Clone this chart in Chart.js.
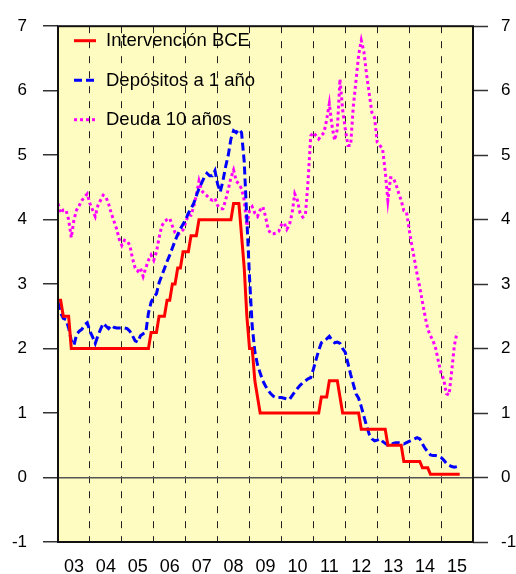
<!DOCTYPE html>
<html>
<head>
<meta charset="utf-8">
<script src="https://cdn.jsdelivr.net/npm/chart.js@4.4.1/dist/chart.umd.min.js"></script>
<style>
  html, body { margin: 0; padding: 0; background: #ffffff; }
  canvas { display: block; }
</style>
</head>
<body>
<canvas id="chart" width="516" height="574"></canvas>
<script>
// Etiquetas de los años (eje X)
const years = ["03", "04", "05", "06", "07", "08", "09", "10", "11", "12", "13", "14", "15"];

// Tipo de intervención del BCE, mensual desde enero 2003
const bce = [
  2.75, 2.75, 2.5, 2.5, 2.5, 2.0, 2.0, 2.0, 2.0, 2.0, 2.0, 2.0,
  2.0, 2.0, 2.0, 2.0, 2.0, 2.0, 2.0, 2.0, 2.0, 2.0, 2.0, 2.0,
  2.0, 2.0, 2.0, 2.0, 2.0, 2.0, 2.0, 2.0, 2.0, 2.0, 2.0, 2.25,
  2.25, 2.25, 2.5, 2.5, 2.5, 2.75, 2.75, 3.0, 3.0, 3.25, 3.25, 3.5,
  3.5, 3.5, 3.75, 3.75, 3.75, 4.0, 4.0, 4.0, 4.0, 4.0, 4.0, 4.0,
  4.0, 4.0, 4.0, 4.0, 4.0, 4.0, 4.25, 4.25, 4.25, 3.75, 3.25, 2.5,
  2.0, 2.0, 1.5, 1.25, 1.0, 1.0, 1.0, 1.0, 1.0, 1.0, 1.0, 1.0,
  1.0, 1.0, 1.0, 1.0, 1.0, 1.0, 1.0, 1.0, 1.0, 1.0, 1.0, 1.0,
  1.0, 1.0, 1.0, 1.25, 1.25, 1.25, 1.5, 1.5, 1.5, 1.5, 1.25, 1.0,
  1.0, 1.0, 1.0, 1.0, 1.0, 1.0, 0.75, 0.75, 0.75, 0.75, 0.75, 0.75,
  0.75, 0.75, 0.75, 0.75, 0.5, 0.5, 0.5, 0.5, 0.5, 0.5, 0.25, 0.25,
  0.25, 0.25, 0.25, 0.25, 0.25, 0.15, 0.15, 0.15, 0.05, 0.05, 0.05, 0.05,
  0.05, 0.05, 0.05, 0.05, 0.05, 0.05, 0.05, 0.05
];

// Depósitos a 1 año
const depositos = [
  2.72, 2.55, 2.47, 2.45, 2.32, 2.12, 2.05, 2.22, 2.27, 2.3, 2.37, 2.4,
  2.27, 2.18, 2.08, 2.2, 2.3, 2.39, 2.35, 2.31, 2.36, 2.33, 2.32, 2.32,
  2.32, 2.32, 2.31, 2.27, 2.2, 2.12, 2.1, 2.2, 2.23, 2.25, 2.55, 2.72,
  2.8, 2.85, 3.02, 3.13, 3.24, 3.35, 3.45, 3.56, 3.67, 3.77, 3.86, 3.93,
  4.0, 4.1, 4.17, 4.25, 4.37, 4.48, 4.57, 4.66, 4.72, 4.68, 4.68, 4.76,
  4.55, 4.43, 4.6, 4.82, 5.0, 5.25, 5.38, 5.35, 5.4, 5.35, 4.9, 4.0,
  3.1, 2.35, 1.95, 1.75, 1.62, 1.5, 1.42, 1.35, 1.3, 1.26, 1.24, 1.24,
  1.24, 1.23, 1.22, 1.21, 1.27, 1.33, 1.38, 1.43, 1.47, 1.5, 1.53, 1.55,
  1.68, 1.83, 1.97, 2.09, 2.12, 2.15, 2.19, 2.13, 2.09, 2.1, 2.08, 2.0,
  1.94, 1.77, 1.6, 1.45, 1.3, 1.23, 1.1, 0.95, 0.8, 0.67, 0.6, 0.57,
  0.58, 0.6, 0.56, 0.53, 0.5, 0.5, 0.53, 0.54, 0.54, 0.53, 0.52, 0.54,
  0.56, 0.58, 0.6, 0.62, 0.6, 0.52, 0.45, 0.4, 0.35, 0.34, 0.34, 0.33,
  0.31, 0.27, 0.22, 0.19, 0.17, 0.16, 0.17
];

// Deuda pública a 10 años
const deuda = [
  4.25, 4.1, 4.15, 4.15, 4.0, 3.72, 4.0, 4.15, 4.22, 4.3, 4.35, 4.4,
  4.25, 4.15, 4.05, 4.22, 4.3, 4.38, 4.35, 4.25, 4.1, 3.98, 3.86, 3.7,
  3.6, 3.68, 3.67, 3.6, 3.4, 3.25, 3.2, 3.25, 3.12, 3.25, 3.37, 3.45,
  3.37, 3.5, 3.72, 3.9, 3.97, 4.0, 4.02, 3.9, 3.8, 3.76, 3.8, 3.84,
  3.95, 4.08, 4.07, 4.2, 4.38, 4.6, 4.45, 4.4, 4.37, 4.32, 4.3, 4.33,
  4.22, 4.17, 4.17, 4.3, 4.47, 4.65, 4.77, 4.6, 4.55, 4.48, 4.3, 3.9,
  4.15, 4.2, 4.1, 4.05, 4.15, 4.2, 4.05, 3.85, 3.78, 3.78, 3.79, 3.82,
  3.92, 3.95, 3.85, 3.92, 4.1, 4.4, 4.3, 4.1, 4.04, 4.07, 4.6, 5.3,
  5.35, 5.3, 5.25, 5.3, 5.35, 5.55, 5.8, 5.45, 5.23, 5.4, 6.18, 5.7,
  5.4, 5.15, 5.15, 5.75, 6.15, 6.55, 6.78, 6.6, 6.25, 5.95, 5.66, 5.58,
  5.2, 5.15, 5.1, 4.75, 4.3, 4.65, 4.65, 4.55, 4.42, 4.3, 4.14, 4.12,
  3.85, 3.6, 3.38, 3.15, 2.95, 2.72, 2.5, 2.3, 2.2, 2.12, 2.0, 1.8,
  1.62, 1.52, 1.3, 1.28, 1.65, 2.05, 2.25
];

const FONT = "'Liberation Sans', Arial, Helvetica, sans-serif";
const toPoints = (arr) => arr.map((v, i) => ({ x: i, y: v }));

// fondo amarillo, marco y leyenda dentro del gráfico
const plotBox = {
  id: "plotBox",
  beforeDraw(chart) {
    const { ctx, chartArea: a } = chart;
    ctx.save();
    ctx.fillStyle = "#fffcc2";
    ctx.fillRect(a.left, a.top, a.right - a.left, a.bottom - a.top);
    ctx.restore();
  },
  afterDatasetsDraw(chart) {
    const { ctx, chartArea: a } = chart;
    ctx.save();
    chart.data.datasets.forEach((ds, k) => {
      const y = a.top + 14.5 + k * 39.5;
      ctx.strokeStyle = ds.borderColor;
      ctx.lineWidth = ds.borderWidth;
      ctx.setLineDash(ds.borderDash || []);
      ctx.beginPath();
      ctx.moveTo(a.left + 16, y);
      ctx.lineTo(a.left + 38, y);
      ctx.stroke();
      ctx.setLineDash([]);
      ctx.fillStyle = "#000";
      ctx.font = "18.5px " + FONT;
      ctx.textBaseline = "middle";
      ctx.textAlign = "left";
      ctx.fillText(ds.label, a.left + 48, y + 0.5);
    });
    ctx.restore();
  },
  afterDraw(chart) {
    const { ctx, chartArea: a } = chart;
    ctx.save();
    ctx.strokeStyle = "#111";
    ctx.lineWidth = 2;
    ctx.strokeRect(a.left, a.top, a.right - a.left, a.bottom - a.top);
    ctx.restore();
  },
};

const yTicks = { stepSize: 1, font: { size: 17, family: FONT }, color: "#000" };

new Chart(document.getElementById("chart"), {
  type: "line",
  data: {
    datasets: [
      {
        label: "Intervención BCE",
        data: toPoints(bce),
        borderColor: "#ff0000",
        borderWidth: 3,
        pointRadius: 0,
        tension: 0,
      },
      {
        label: "Depósitos a 1 año",
        data: toPoints(depositos),
        borderColor: "#0000ff",
        borderWidth: 3,
        borderDash: [8, 4],
        pointRadius: 0,
        tension: 0,
      },
      {
        label: "Deuda 10 años",
        data: toPoints(deuda),
        borderColor: "#ff00ff",
        borderWidth: 3,
        borderDash: [3, 3],
        pointRadius: 0,
        tension: 0,
      },
    ],
  },
  options: {
    responsive: false,
    animation: false,
    layout: { padding: { top: 23, left: 0, right: 0, bottom: 0 } },
    plugins: { legend: { display: false }, tooltip: { enabled: false } },
    scales: {
      x: {
        type: "linear",
        min: 0,
        max: 156,
        afterBuildTicks(scale) {
          const t = [];
          for (let k = 0; k <= years.length; k++) {
            t.push({ value: k * 12 });
            if (k < years.length) t.push({ value: k * 12 + 6 });
          }
          scale.ticks = t;
        },
        afterFit(scale) {
          scale.height = 32;
        },
        grid: {
          color: (c) => {
            const v = c.tick ? c.tick.value : -1;
            return v % 12 === 0 && v > 0 && v < 156 ? "#222" : "rgba(0,0,0,0)";
          },
          lineWidth: 1,
          drawTicks: false,
        },
        border: { display: false, dash: [7, 8] },
        ticks: {
          autoSkip: false,
          maxRotation: 0,
          padding: 14,
          font: { size: 18, family: FONT },
          color: "#000",
          callback: (v) => (v % 12 === 6 ? years[(v - 6) / 12] : ""),
        },
      },
      y: {
        min: -1,
        max: 7,
        afterFit(scale) {
          scale.width = 58;
        },
        grid: {
          color: (c) => (c.tick && c.tick.value === 0 ? "#555" : "rgba(0,0,0,0)"),
          lineWidth: 1.5,
          tickLength: 15,
          tickColor: "#333",
          tickWidth: 1.5,
        },
        border: { display: false },
        ticks: { ...yTicks, padding: 16 },
      },
      y2: {
        position: "right",
        min: -1,
        max: 7,
        afterFit(scale) {
          scale.width = 43;
        },
        grid: {
          drawOnChartArea: false,
          tickLength: 15,
          tickColor: "#333",
          tickWidth: 1.5,
        },
        border: { display: false },
        ticks: { ...yTicks, padding: 13 },
      },
    },
  },
  plugins: [plotBox],
});
</script>
</body>
</html>
